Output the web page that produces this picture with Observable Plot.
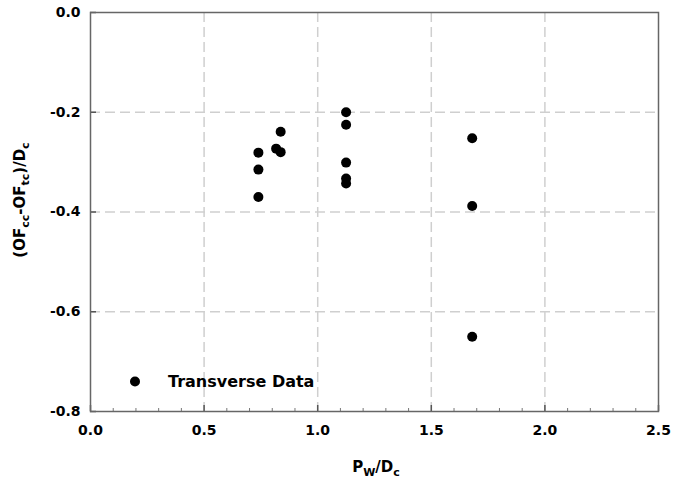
<!DOCTYPE html>
<html>
<head>
<meta charset="utf-8">
<script src="https://cdn.jsdelivr.net/npm/d3@7"></script>
<script src="https://cdn.jsdelivr.net/npm/@observablehq/plot@0.6"></script>
<style>
  html, body { margin: 0; padding: 0; background: #fff; }
  #wrap { position: relative; width: 673px; height: 486px; font-family: "DejaVu Sans", sans-serif; font-weight: bold; color: #000; }
  .title { position: absolute; font-size: 15px; white-space: nowrap; line-height: 1; }
  .title sub { font-size: 11px; vertical-align: -4px; line-height: 0; }
  #ytitle { left: 20px; top: 200px; transform: translate(-50%, -50%) rotate(-90deg); }
  #xtitle { left: 376px; top: 467px; transform: translate(-50%, -50%); }
  #legend { position: absolute; left: 130px; top: 381px; transform: translateY(-50%); display: flex; align-items: center; font-size: 16px; white-space: nowrap; }
  #legend .sym { width: 10px; height: 10px; border-radius: 50%; background: #000; margin-right: 28px; }
</style>
</head>
<body>
<div id="wrap"></div>
<script>
// Data
const pwDc = [0.739, 0.739, 0.739, 0.817, 0.837, 0.837, 1.125, 1.125, 1.125, 1.125, 1.125, 1.680, 1.680, 1.680];
const ofDiff = [-0.281, -0.315, -0.370, -0.273, -0.239, -0.280, -0.200, -0.225, -0.301, -0.333, -0.343, -0.252, -0.388, -0.650];
const seriesName = "Transverse Data";

const xTicks = [0, 0.5, 1.0, 1.5, 2.0, 2.5];
const xGrid = [0.5, 1.0, 1.5, 2.0];
const xMinor = [0.1, 0.2, 0.3, 0.4, 0.6, 0.7, 0.8, 0.9, 1.1, 1.2, 1.3, 1.4, 1.6, 1.7, 1.8, 1.9, 2.1, 2.2, 2.3, 2.4];
const yTicks = [0, -0.2, -0.4, -0.6, -0.8];
const yGrid = [-0.2, -0.4, -0.6];

const data = pwDc.map((x, i) => ({x, y: ofDiff[i]}));

const W = 673, H = 486;
const mL = 90, mR = 15, mT = 12, mB = 75;
const innerH = H - mT - mB, innerW = W - mL - mR;
const fmt = d => d.toFixed(1);

const chart = Plot.plot({
  width: W, height: H,
  marginLeft: mL, marginRight: mR, marginTop: mT, marginBottom: mB,
  style: {fontFamily: "DejaVu Sans, sans-serif", fontSize: "14px", fontWeight: "bold", color: "#000", background: "#fff"},
  x: {domain: [0, 2.5]},
  y: {domain: [-0.8, 0]},
  marks: [
    Plot.gridX(xGrid, {stroke: "#cfcfcf", strokeOpacity: 1, strokeWidth: 1.5, strokeDasharray: "10,5"}),
    Plot.gridY(yGrid, {stroke: "#cfcfcf", strokeOpacity: 1, strokeWidth: 1.5, strokeDasharray: "10,5"}),
    Plot.tickX(xMinor, {x: d => d, insetTop: innerH - 3, stroke: "#777", strokeWidth: 1}),
    Plot.tickX(xTicks, {x: d => d, insetTop: innerH - 6, stroke: "#555", strokeWidth: 1.5}),
    Plot.tickY(yTicks, {y: d => d, insetRight: innerW - 6, stroke: "#555", strokeWidth: 1.5}),
    Plot.frame({stroke: "#666", strokeWidth: 1.5}),
    Plot.axisX({ticks: xTicks, tickSize: 0, tickPadding: 14, tickFormat: fmt, label: null}),
    Plot.axisY({ticks: yTicks, tickSize: 0, tickPadding: 10, tickFormat: fmt, label: null}),
    Plot.dot(data, {x: "x", y: "y", r: 5, fill: "#000", stroke: "none"})
  ]
});

const wrap = document.getElementById("wrap");
wrap.appendChild(chart);

const yt = document.createElement("div");
yt.className = "title"; yt.id = "ytitle";
yt.innerHTML = "(OF<sub>cc</sub>-OF<sub>tc</sub>)/D<sub>c</sub>";
wrap.appendChild(yt);

const xt = document.createElement("div");
xt.className = "title"; xt.id = "xtitle";
xt.innerHTML = "P<sub>W</sub>/D<sub>c</sub>";
wrap.appendChild(xt);

const lg = document.createElement("div");
lg.id = "legend";
lg.innerHTML = '<span class="sym"></span><span></span>';
lg.lastChild.textContent = seriesName;
wrap.appendChild(lg);
</script>
</body>
</html>
